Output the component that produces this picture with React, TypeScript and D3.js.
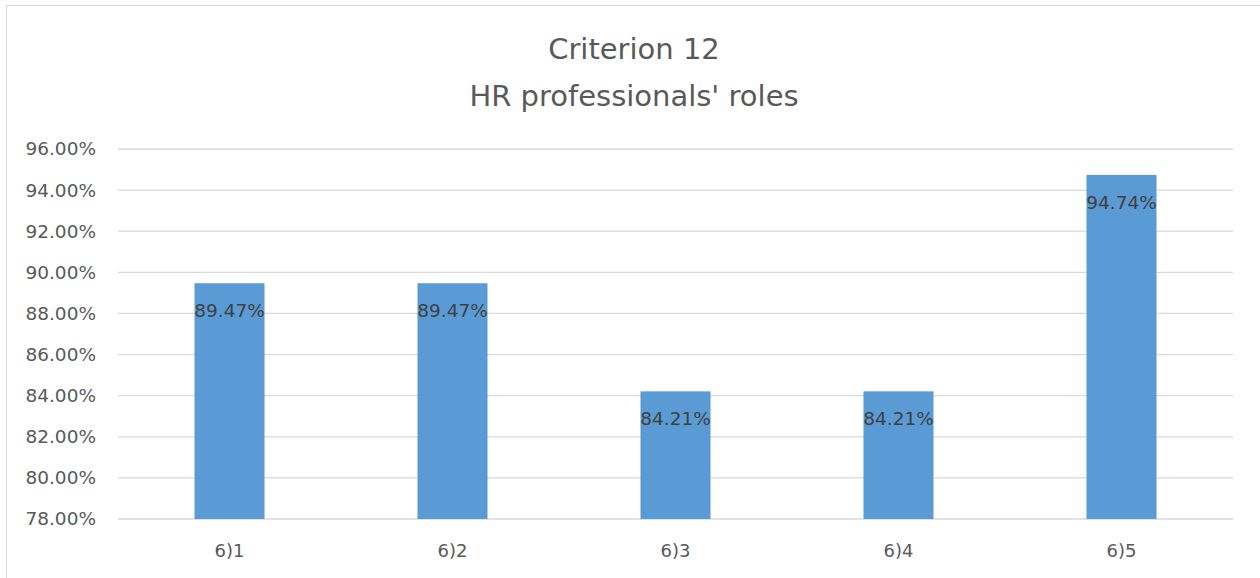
import React, { useRef, useEffect } from "react";
import { select, scaleLinear, scaleBand, axisLeft, range } from "d3";

const categories = ["6)1", "6)2", "6)3", "6)4", "6)5"];
const values = [89.47, 89.47, 84.21, 84.21, 94.74];
const yTicks = [78, 80, 82, 84, 86, 88, 90, 92, 94, 96];
const titleLines = ["Criterion 12", "HR professionals' roles"];

const W = 1260;
const H = 578;
const FONT = "'DejaVu Sans', sans-serif";

const App = () => {
  const svgRef = useRef<SVGSVGElement>(null);

  useEffect(() => {
    const svg = select(svgRef.current);
    svg.selectAll("*").remove();

    const left = 118;
    const right = 1233;
    const top = 149;
    const bottom = 519;

    const x = scaleBand().domain(categories).range([left, right]).paddingInner(0.686).paddingOuter(0.343);
    const y = scaleLinear().domain([78, 96]).range([bottom, top]);

    // chart border
    svg.append("rect")
      .attr("x", 6.5).attr("y", 5.5)
      .attr("width", W + 10).attr("height", H + 10)
      .attr("fill", "white").attr("stroke", "#d9d9d9");

    // title
    const title = svg.append("text")
      .attr("text-anchor", "middle")
      .attr("font-family", FONT)
      .attr("font-size", 29)
      .attr("fill", "#595959");
    titleLines.forEach((t, i) => {
      title.append("tspan").attr("x", 634).attr("y", 59 + i * 47).text(t);
    });

    // gridlines
    svg.append("g").selectAll("line")
      .data(yTicks)
      .join("line")
      .attr("x1", left).attr("x2", right)
      .attr("y1", d => y(d)).attr("y2", d => y(d))
      .attr("stroke", "#d9d9d9").attr("stroke-width", 1.3);

    // y axis labels
    const yAxis = axisLeft(y).tickValues(yTicks).tickSize(0).tickPadding(22)
      .tickFormat(d => `${(d as number).toFixed(2)}%`);
    const ya = svg.append("g").attr("transform", `translate(${left},0)`).call(yAxis);
    ya.select(".domain").remove();
    ya.selectAll("text")
      .attr("font-family", FONT).attr("font-size", 18.5).attr("fill", "#595959");

    // bars
    svg.append("g").selectAll("rect")
      .data(values)
      .join("rect")
      .attr("x", (_, i) => x(categories[i])!)
      .attr("width", x.bandwidth())
      .attr("y", d => y(d))
      .attr("height", d => bottom - y(d))
      .attr("fill", "#5b9bd5");

    // value labels
    svg.append("g").selectAll("text")
      .data(values)
      .join("text")
      .attr("x", (_, i) => x(categories[i])! + x.bandwidth() / 2)
      .attr("y", d => y(d) + 34)
      .attr("text-anchor", "middle")
      .attr("font-family", FONT).attr("font-size", 18.5).attr("fill", "#404040")
      .text(d => `${d.toFixed(2)}%`);

    // x labels
    svg.append("g").selectAll("text")
      .data(range(categories.length))
      .join("text")
      .attr("x", i => x(categories[i])! + x.bandwidth() / 2)
      .attr("y", 557)
      .attr("text-anchor", "middle")
      .attr("font-family", FONT).attr("font-size", 18).attr("fill", "#595959")
      .text(i => categories[i]);
  }, []);

  return (
    <svg ref={svgRef} width={W} height={H}
      style={{ position: "absolute", left: 0, top: 0, background: "white" }} />
  );
};

export default App;
